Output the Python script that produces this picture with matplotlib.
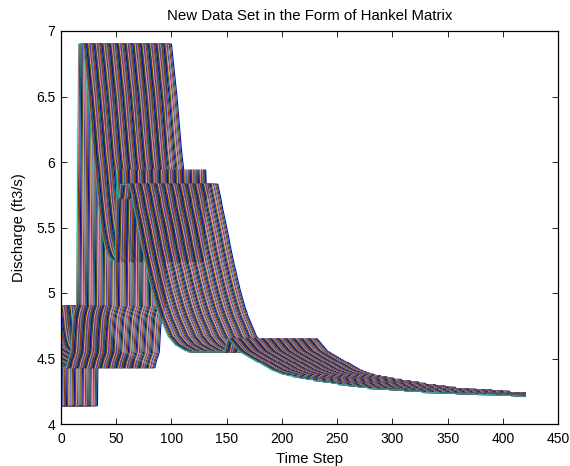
import matplotlib
matplotlib.use('Agg')
import matplotlib.pyplot as plt
import numpy as np

plt.rcParams['font.family'] = ['Liberation Sans', 'DejaVu Sans']

# discharge series
base_flow = [4.14]*33 + [4.9]*9
first_fall = [4.82,4.74,4.68,4.64,4.61,4.59,4.58,4.57,4.565,4.56,4.555,4.55,4.545,4.54,4.535,4.53,4.525,4.52,
              4.515,4.51,4.505,4.50,4.495,4.49,4.485,4.48,4.475,4.47,4.465,4.46,4.455,4.45,4.447,4.444,4.441,
              4.438,4.436,4.434,4.432,4.431,4.43,4.43,4.43]
rise = [4.47,4.5,4.52,4.55,4.7,4.81,4.85,4.88,4.9,5.9]
peak = [6.9]*5
recession = [6.82,6.74,6.66,6.58,6.5,6.4,6.3,6.2,6.1,6.02,5.95,5.85,5.76,5.68,5.6,5.54,5.48,5.43,5.39,5.35,5.32,
             5.3,5.28,5.27,5.26,5.25,5.25,5.24,5.24]
second_peak = [5.6,5.94,5.72,5.74,5.83,5.83,5.83,5.83,5.83,5.83,5.83,5.83,5.83]
second_fall = [5.79,5.75,5.71,5.66,5.62,5.58,5.54,5.5,5.46,5.42,5.37,5.33,5.29,5.25,5.21,5.18,5.14,5.1,5.07,5.03,
               5.0,4.97,4.94,4.91,4.88,4.86,4.83,4.81,4.79,4.77,4.75,4.73,4.71,4.69,4.67,4.66,4.65,4.64,4.63,
               4.62,4.61,4.6,4.6,4.59,4.59,4.58,4.58,4.57,4.57,4.56,4.56,4.56,4.55]
third_peak = [4.55]*33 + [4.58,4.62,4.65,4.65]
tail = [4.64,4.63,4.62,4.61,4.6,4.59,4.58,4.57,4.56,4.55,4.55,4.54,4.54,4.53,4.53,4.52,4.52,4.51,4.51,4.5,4.5,
        4.49,4.49,4.48,4.48,4.47,4.47,4.47,4.46,4.46,4.45,4.45,4.44,4.44,4.43,4.43,4.42,4.42,4.41,4.41,4.41,
        4.4,4.4,4.4,4.39,4.39,4.39,4.38,4.38,4.38,4.38,4.375]
tail += [4.37]*5 + [4.36]*6 + [4.35]*6 + [4.34]*7 + [4.33]*8 + [4.32]*8 + [4.31]*6 + [4.3]*9
tail += [4.29]*9 + [4.28]*9 + [4.27]*9 + [4.265]*10 + [4.26]*14 + [4.25]*16 + [4.24]*16
tail += [4.235]*14 + [4.23]*18 + [4.225]*18 + [4.22]*14 + [4.215]*10 + [4.21]*8

discharge = base_flow + first_fall + rise + peak + recession + second_peak + second_fall + third_peak + tail

rows = 420
cols = 81
colors = [(0,0,1),(0,0.5,0),(1,0,0),(0,0.75,0.75),(0.75,0,0.75),(0.75,0.75,0),(0.25,0.25,0.25)]

s = np.array(discharge)
steps = np.arange(1, rows+1)

fig = plt.figure(figsize=(5.7,4.66), dpi=100)
ax = fig.add_axes([61/570, 1-424/466, 497/570, 393/466])
ax.set_prop_cycle(color=colors)

# each column of the hankel matrix is the series moved one step left
for k in range(cols):
    ax.plot(steps, s[k:k+rows], lw=0.8)

ax.set_xlim(0,450)
ax.set_ylim(4,7)
ax.set_xticks(np.arange(0,451,50))
ax.set_yticks(np.arange(4,7.1,0.5))
ax.set_yticklabels(['4','4.5','5','5.5','6','6.5','7'])
ax.tick_params(direction='in', top=True, right=True, length=4, width=0.6, labelsize=10)
ax.tick_params(axis='x', pad=6)
ax.tick_params(axis='y', pad=4)
for sp in ax.spines.values():
    sp.set_linewidth(0.9)

ax.set_title('New Data Set in the Form of Hankel Matrix', fontsize=10.8, pad=8)
ax.set_xlabel('Time Step', fontsize=10.6, labelpad=4)
ax.set_ylabel('Discharge (ft3/s)', fontsize=10.6, labelpad=7)

fig.savefig('out.png', dpi=100)
